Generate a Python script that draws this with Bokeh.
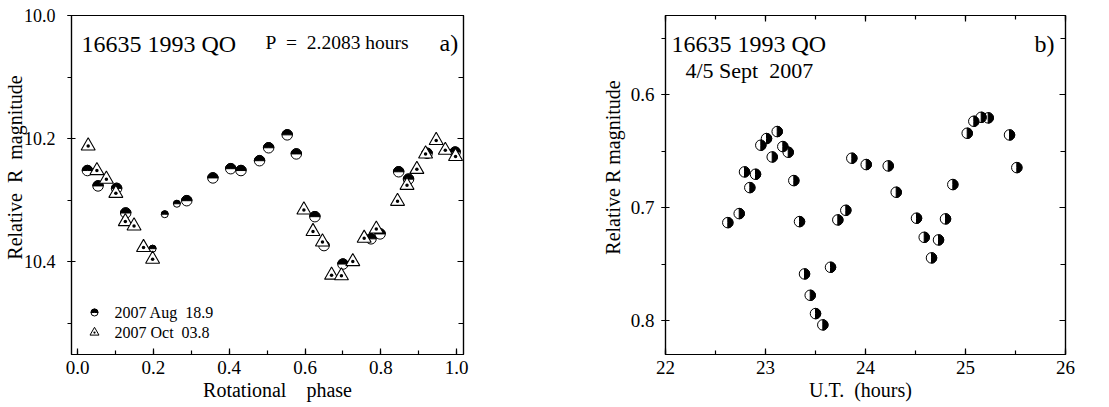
import numpy as np
from bokeh.plotting import figure
from bokeh.models import (Range1d, LinearAxis, Label, SingleIntervalTicker,
                          PrintfTickFormatter, ColumnDataSource, CustomJSTickFormatter)
from bokeh.layouts import row
from bokeh.embed import file_html
from bokeh.resources import INLINE

# ---------------- data ----------------
# panel a) : 2007 Aug 18.9 (half-filled circles)
aug_phase = [0.026, 0.054, 0.103, 0.127, 0.198, 0.230, 0.262, 0.288, 0.357, 0.404,
             0.431, 0.480, 0.504, 0.553, 0.577, 0.626, 0.650, 0.700, 0.774, 0.798,
             0.847, 0.873, 0.922, 0.996]
aug_mag = [10.252, 10.277, 10.281, 10.321, 10.379, 10.323, 10.306, 10.301, 10.264, 10.249,
           10.252, 10.236, 10.215, 10.194, 10.225, 10.327, 10.374, 10.404, 10.363, 10.355,
           10.254, 10.266, 10.224, 10.222]
aug_small = [4, 5, 6]  # indices of the smaller symbols

# panel a) : 2007 Oct 03.8 (triangles)
oct_phase = [0.028, 0.051, 0.076, 0.101, 0.126, 0.149, 0.174, 0.198, 0.597, 0.621,
             0.646, 0.670, 0.696, 0.726, 0.756, 0.788, 0.844, 0.869, 0.895, 0.918,
             0.946, 0.970, 0.997]
oct_mag = [10.212, 10.252, 10.266, 10.289, 10.335, 10.342, 10.377, 10.396, 10.316, 10.351,
           10.368, 10.422, 10.423, 10.400, 10.362, 10.347, 10.302, 10.276, 10.250, 10.225,
           10.203, 10.219, 10.229]

# panel b) : 4/5 Sept 2007
ut_hours = [22.623, 22.737, 22.790, 22.843, 22.900, 22.953, 23.010, 23.067, 23.117, 23.173,
            23.227, 23.283, 23.340, 23.390, 23.447, 23.500, 23.573, 23.650, 23.723, 23.803,
            23.863, 24.007, 24.227, 24.307, 24.510, 24.587, 24.660, 24.730, 24.800, 24.873,
            25.017, 25.083, 25.157, 25.227, 25.440, 25.513]
rel_mag = [0.7133, 0.7053, 0.6684, 0.6823, 0.6705, 0.6448, 0.6389, 0.6552, 0.6327, 0.6460,
           0.6510, 0.6761, 0.7124, 0.7587, 0.7776, 0.7938, 0.8038, 0.7528, 0.7109, 0.7024,
           0.6563, 0.6619, 0.6631, 0.6864, 0.7094, 0.7263, 0.7445, 0.7286, 0.7100, 0.6796,
           0.6342, 0.6236, 0.6201, 0.6206, 0.6357, 0.6646]

FONT = "Liberation Serif"
FW_A, FW_B, FH = 392, 400, 339
NB = "\u00a0"


def style(p, xlabel, ylabel, tick_out, lab_standoff, ax_standoff, ytick_fs):
    p.outline_line_color = "black"
    p.outline_line_width = 1.2
    p.grid.visible = False
    p.background_fill_color = "white"
    p.border_fill_color = "white"
    for ax in (p.xaxis[0], p.yaxis[0]):
        ax.axis_line_width = 1.2
        ax.major_tick_line_width = 1.2
        ax.minor_tick_line_width = 1.2
        ax.major_label_text_font = FONT
        ax.major_label_text_font_size = "19px"
        ax.major_label_text_color = "black"
        ax.axis_label_text_font = FONT
        ax.axis_label_text_font_style = "normal"
        ax.axis_label_text_font_size = "20px"
        ax.axis_label_text_color = "black"
    xa, ya = p.xaxis[0], p.yaxis[0]
    ya.major_label_text_font_size = ytick_fs
    xa.axis_label = xlabel
    ya.axis_label = ylabel
    xa.major_tick_in, xa.major_tick_out = 6, 0
    xa.minor_tick_in, xa.minor_tick_out = 4, 0
    xa.major_label_standoff = 6
    xa.axis_label_standoff = 2
    ya.major_tick_in, ya.major_tick_out = 4, tick_out
    ya.minor_tick_in, ya.minor_tick_out = 0, 4
    ya.major_label_standoff = lab_standoff
    ya.axis_label_standoff = ax_standoff


def mirror_axis(p, ticker, side):
    ax = LinearAxis(ticker=ticker, formatter=CustomJSTickFormatter(code="return ''"),
                    axis_line_width=1.2, major_tick_line_width=1.2,
                    minor_tick_line_width=1.2, major_tick_in=6, major_tick_out=0,
                    minor_tick_in=5, minor_tick_out=0, major_label_standoff=0,
                    major_label_text_font_size="2px")
    if side == "above":
        ax.minor_tick_in = 4
    p.add_layout(ax, side)


# ---------------- panel a ----------------
pa = figure(frame_width=FW_A, frame_height=FH, output_backend="svg", toolbar_location=None,
            x_range=Range1d(-0.016, 1.018), y_range=Range1d(10.551, 10.0),
            min_border_left=70, min_border_right=94, min_border_top=15, min_border_bottom=44)
pa.extra_x_ranges = {"scr": Range1d(0, FW_A)}
pa.extra_y_ranges = {"scr": Range1d(0, FH)}
xt_a = SingleIntervalTicker(interval=0.2, num_minor_ticks=2)
yt_a = SingleIntervalTicker(interval=0.2, num_minor_ticks=2)
pa.xaxis[0].ticker = xt_a
pa.yaxis[0].ticker = yt_a
pa.xaxis[0].formatter = PrintfTickFormatter(format="%.1f")
pa.yaxis[0].formatter = PrintfTickFormatter(format="%.1f")
style(pa, NB * 4 + "Rotational" + NB * 4 + "phase",
      NB * 7 + "Relative" + NB * 2 + "R" + NB * 2 + "magnitude", 4, 12, -5, "18px")
mirror_axis(pa, yt_a, "right")

sizes = [7 if i in aug_small else 10.5 for i in range(len(aug_phase))]
src_aug = ColumnDataSource(dict(x=aug_phase, y=aug_mag, s=sizes,
                                r=[s / 2 for s in sizes]))
pa.scatter("x", "y", size="s", source=src_aug, marker="circle",
           fill_color="white", line_color="black", line_width=1)
pa.wedge("x", "y", radius="r", radius_units="screen", source=src_aug,
         start_angle=0, end_angle=np.pi, fill_color="black", line_color="black",
         line_width=1)
pa.scatter(oct_phase, oct_mag, size=14, marker="triangle_dot", fill_color="white",
           line_color="black", line_width=1.1)

# legend keys and texts (frame pixel coordinates)
pa.scatter([23], [42], size=7, marker="circle", fill_color="white", line_color="black",
           x_range_name="scr", y_range_name="scr")
pa.wedge([23], [42], radius=3.5, radius_units="screen", start_angle=0, end_angle=np.pi,
         fill_color="black", line_color="black", x_range_name="scr", y_range_name="scr")
pa.scatter([23], [22], size=9, marker="triangle_dot", fill_color="white",
           line_color="black", x_range_name="scr", y_range_name="scr")
for txt, fx, fy, fs in [("16635 1993 QO", 10, 311, "24px"),
                        ("P" + NB * 2 + "=" + NB * 2 + "2.2083 hours", 194, 312, "19.5px"),
                        ("a)", 368, 312, "24px"),
                        ("2007 Aug" + NB * 2 + "18.9", 43, 42, "16px"),
                        ("2007 Oct" + NB * 2 + "03.8", 43, 22, "16px")]:
    pa.add_layout(Label(x=fx, y=fy, text=txt, x_range_name="scr", y_range_name="scr",
                        text_font=FONT, text_font_size=fs, text_baseline="middle",
                        text_color="black"))

# ---------------- panel b ----------------
pb = figure(frame_width=FW_B, frame_height=FH, output_backend="svg", toolbar_location=None,
            x_range=Range1d(22, 26), y_range=Range1d(0.83, 0.53),
            min_border_left=108, min_border_right=30, min_border_top=15, min_border_bottom=44)
pb.extra_x_ranges = {"scr": Range1d(0, FW_B)}
pb.extra_y_ranges = {"scr": Range1d(0, FH)}
xt_b = SingleIntervalTicker(interval=1, num_minor_ticks=2)
yt_b = SingleIntervalTicker(interval=0.1, num_minor_ticks=2)
pb.xaxis[0].ticker = xt_b
pb.yaxis[0].ticker = yt_b
pb.xaxis[0].formatter = PrintfTickFormatter(format="%d")
pb.yaxis[0].formatter = PrintfTickFormatter(format="%.1f")
style(pb, "U.T." + NB * 2 + "(hours)" + NB * 2, NB * 7 + "Relative R magnitude",
      4, 7, 4, "19px")
mirror_axis(pb, yt_b, "right")
mirror_axis(pb, xt_b, "above")

src_b = ColumnDataSource(dict(x=ut_hours, y=rel_mag))
pb.scatter("x", "y", size=10.5, source=src_b, marker="circle",
           fill_color="white", line_color="black", line_width=1)
pb.wedge("x", "y", radius=5.25, radius_units="screen", source=src_b,
         start_angle=-np.pi / 2, end_angle=np.pi / 2, fill_color="black",
         line_color="black", line_width=1)
for txt, fx, fy, fs in [("16635 1993 QO", 6, 311, "24px"),
                        ("4/5 Sept" + NB * 2 + "2007", 20, 284, "22px"),
                        ("b)", 369, 311, "24px")]:
    pb.add_layout(Label(x=fx, y=fy, text=txt, x_range_name="scr", y_range_name="scr",
                        text_font=FONT, text_font_size=fs, text_baseline="middle",
                        text_color="black"))

layout = row(pa, pb)
open("out.html", "w").write(file_html(layout, INLINE))
